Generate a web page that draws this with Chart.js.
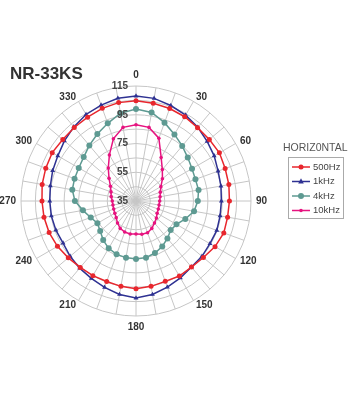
<!DOCTYPE html>
<html>
<head>
<meta charset="utf-8">
<script src="https://cdn.jsdelivr.net/npm/chart.js@4.4.1/dist/chart.umd.min.js"></script>
<style>
  html, body { margin: 0; padding: 0; background: #fff; }
  #wrap { position: relative; width: 350px; height: 400px; }
</style>
</head>
<body>
<div id="wrap"><canvas id="polarChart" width="350" height="400"></canvas></div>
<script>
// angles every 10 degrees, labels only every 30
const angles = ['0', '10', '20', '30', '40', '50', '60', '70', '80', '90', '100', '110',
  '120', '130', '140', '150', '160', '170', '180', '190', '200', '210', '220', '230',
  '240', '250', '260', '270', '280', '290', '300', '310', '320', '330', '340', '350'];
const shownAngles = ['0', '30', '60', '90', '120', '150', '180', '210', '240', '270', '300', '330'];
const radialTicks = [35, 55, 75, 95, 115];

const hz500 = [104.8, 104, 103.5, 102.7, 101.6, 101.6, 102, 101, 100.6, 100, 99.7, 100,
  98.5, 96.2, 95, 95.3, 94.5, 95.3, 96, 95.3, 94.6, 95, 95.3, 96.5,
  98.1, 99.3, 100, 100.4, 101.3, 101.8, 102.3, 101.5, 101.8, 102.3, 103.6, 104.5];
const khz1 = [108, 107.5, 105.7, 104, 101.9, 99.6, 97.8, 95.8, 95, 94.4, 94.4, 94.8,
  94.4, 94.9, 95, 96.8, 98.8, 101, 102.5, 101, 98.9, 97.2, 96, 94.8,
  93.6, 94.3, 94.8, 95, 95.5, 96.7, 97.8, 100, 102.3, 104.5, 106, 107.6];
const khz4 = [99, 97.5, 93, 88.5, 85, 82, 80, 79, 79.2, 78, 76, 71.5,
  67.5, 66.5, 69, 71.5, 73.5, 75, 75.3, 75, 74.5, 73, 70.5, 67.5,
  66, 68.5, 72.5, 77.5, 80, 80.5, 81, 82.5, 85.5, 88.8, 92.5, 97];
const khz10 = [88, 87, 81.5, 70, 63.5, 59, 55, 53, 52, 51.5, 51.3, 51.5,
  52, 53.5, 55, 57, 58.5, 58.5, 58, 58.3, 58, 57, 55, 53,
  52, 51.5, 51.3, 51.5, 52.5, 53.5, 55.5, 59.5, 65, 72, 81, 87];

const seriesNames = ['500Hz', '1kHz', '4kHz', '10kHz'];
const seriesColors = ['#e8262d', '#2e3192', '#5e9a92', '#e6137f'];

// text around the polar grid plus title and legend
const polarText = {
  id: 'polarText',
  afterDraw(chart) {
    const ctx = chart.ctx;
    const r = chart.scales.r;
    ctx.save();

    ctx.font = 'bold 10px "Liberation Sans", Arial, sans-serif';
    ctx.fillStyle = '#333';
    angles.forEach((a, i) => {
      if (!shownAngles.includes(a)) return;
      const deg = Number(a);
      const p = r.getPointPosition(i, r.drawingArea + (deg % 180 === 0 ? 6 : 5));
      if (deg === 0 || deg === 180) ctx.textAlign = 'center';
      else ctx.textAlign = deg < 180 ? 'left' : 'right';
      if (deg === 0) ctx.textBaseline = 'bottom';
      else if (deg === 180) ctx.textBaseline = 'top';
      else ctx.textBaseline = 'middle';
      ctx.fillText(a, p.x, p.y);
    });

    ctx.font = 'bold 10px "Liberation Sans", Arial, sans-serif';
    ctx.fillStyle = '#444';
    ctx.textAlign = 'right';
    ctx.textBaseline = 'middle';
    radialTicks.forEach(v => {
      ctx.fillText(String(v), r.xCenter - 8, r.yCenter - r.getDistanceFromCenterForValue(v));
    });

    // title
    ctx.font = 'bold 17px "Liberation Sans", Arial, sans-serif';
    ctx.fillStyle = '#333';
    ctx.textAlign = 'left';
    ctx.fillText('NR-33KS', 10, 74);

    // legend
    ctx.font = '10.5px "Liberation Sans", Arial, sans-serif';
    ctx.fillStyle = '#555';
    ctx.fillText('HORIZ0NTAL', 283, 148);
    ctx.strokeStyle = '#aaa';
    ctx.lineWidth = 1;
    ctx.strokeRect(288.5, 157.5, 55, 61);
    ctx.font = '9.5px "Liberation Sans", Arial, sans-serif';
    chart.data.datasets.forEach((ds, i) => {
      const y = 167 + i * 14.5;
      ctx.strokeStyle = ds.borderColor;
      ctx.lineWidth = 1.5;
      ctx.beginPath();
      ctx.moveTo(292, y);
      ctx.lineTo(310, y);
      ctx.stroke();
      ctx.fillStyle = ds.borderColor;
      const pr = ds.pointRadius;
      ctx.beginPath();
      if (ds.pointStyle === 'triangle') {
        ctx.moveTo(301, y - pr - 0.5);
        ctx.lineTo(301 + pr, y + pr * 0.7);
        ctx.lineTo(301 - pr, y + pr * 0.7);
        ctx.closePath();
      } else {
        ctx.arc(301, y, pr, 0, Math.PI * 2);
      }
      ctx.fill();
      ctx.fillStyle = '#444';
      ctx.fillText(ds.label, 313, y);
    });
    ctx.restore();
  }
};

const pointSizes = [2.5, 2.8, 3, 1.8];
const pointShapes = ['circle', 'triangle', 'circle', 'circle'];

const ctx = document.getElementById('polarChart').getContext('2d');
new Chart(ctx, {
  type: 'radar',
  data: {
    labels: angles,
    datasets: [hz500, khz1, khz4, khz10].map((vals, i) => ({
      label: seriesNames[i],
      data: vals,
      borderColor: seriesColors[i],
      backgroundColor: seriesColors[i],
      pointBackgroundColor: seriesColors[i],
      pointBorderColor: seriesColors[i],
      pointBorderWidth: 0,
      pointRadius: pointSizes[i],
      pointStyle: pointShapes[i],
      borderWidth: 1.5,
      fill: false
    }))
  },
  options: {
    responsive: false,
    animation: false,
    devicePixelRatio: 1,
    layout: { padding: { left: 21, right: 99, top: 86, bottom: 84 } },
    plugins: {
      legend: { display: false },
      tooltip: { enabled: false }
    },
    scales: {
      r: {
        min: 35,
        max: 115,
        ticks: { stepSize: 10, display: false },
        grid: { circular: true, color: '#c6c6c6', lineWidth: 1 },
        angleLines: { color: '#c6c6c6', lineWidth: 1 },
        pointLabels: { display: false }
      }
    }
  },
  plugins: [polarText]
});
</script>
</body>
</html>
